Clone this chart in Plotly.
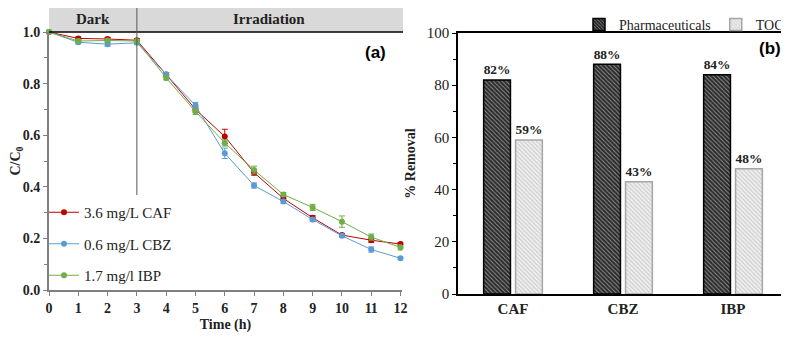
import plotly.graph_objects as go

# ---- data ----
hours = [0, 1, 2, 3, 4, 5, 6, 7, 8, 9, 10, 11, 12]
caf = [1.0, 0.975, 0.973, 0.968, 0.835, 0.70, 0.595, 0.455, 0.355, 0.28, 0.213, 0.193, 0.178]
caf_err = [0.0, 0.006, 0.006, 0.006, 0.008, 0.01, 0.028, 0.01, 0.008, 0.008, 0.006, 0.008, 0.006]
cbz = [1.0, 0.96, 0.953, 0.958, 0.835, 0.715, 0.53, 0.405, 0.343, 0.273, 0.21, 0.157, 0.123]
cbz_err = [0.0, 0.006, 0.008, 0.006, 0.008, 0.012, 0.02, 0.01, 0.006, 0.008, 0.006, 0.01, 0.006]
ibp = [1.0, 0.965, 0.967, 0.965, 0.822, 0.692, 0.57, 0.465, 0.37, 0.32, 0.265, 0.205, 0.165]
ibp_err = [0.0, 0.006, 0.006, 0.006, 0.008, 0.012, 0.012, 0.015, 0.008, 0.012, 0.022, 0.012, 0.01]
series_names = ["3.6 mg/L CAF", "0.6 mg/L CBZ", "1.7 mg/l IBP"]
series_colors = ["#C00000", "#5B9BD5", "#70AD47"]

compounds = ["CAF", "CBZ", "IBP"]
pharma_removal = [82, 88, 84]
toc_removal = [59, 43, 48]

# page body has an 8px default margin; figure is sized to fit the window
OFF = 8
W, H = 789 - OFF, 337 - OFF
def px_x(p): return (p - OFF) / W
def px_y(p): return 1 - (p - OFF) / H

serif = "Liberation Serif"
sans = "Liberation Sans"

fig = go.Figure()

for name, ys, errs, col in zip(series_names, [caf, cbz, ibp], [caf_err, cbz_err, ibp_err], series_colors):
    fig.add_trace(go.Scatter(
        x=hours, y=ys, name=name, mode="lines+markers",
        line=dict(color=col, width=1),
        marker=dict(color=col, size=6),
        error_y=dict(type="data", array=errs, color=col, thickness=1, width=3),
        xaxis="x", yaxis="y", legend="legend", legendgroup=name, cliponaxis=False,
    ))

fig.add_trace(go.Bar(
    x=compounds, y=pharma_removal, name="Pharmaceuticals",
    marker=dict(color="#404040", line=dict(color="#000000", width=1.5),
                pattern=dict(shape="\\", fgcolor="#FFFFFF", bgcolor="#2A2A2A", size=3, solidity=0.3)),
    text=[f"{v}%" for v in pharma_removal], textposition="outside",
    textfont=dict(family=serif, size=15, color="#222", weight="bold"),
    xaxis="x2", yaxis="y2", legend="legend2", cliponaxis=False,
))
fig.add_trace(go.Bar(
    x=compounds, y=toc_removal, name="TOC",
    marker=dict(color="#D9D9D9", line=dict(color="#A6A6A6", width=1.5),
                pattern=dict(shape="\\", fgcolor="#B0B0B0", bgcolor="#EFEFEF", size=3, solidity=0.4)),
    text=[f"{v}%" for v in toc_removal], textposition="outside",
    textfont=dict(family=serif, size=15, color="#222", weight="bold"),
    xaxis="x2", yaxis="y2", legend="legend2", cliponaxis=False,
))

fig.update_layout(
    width=W, height=H,
    margin=dict(l=0, r=0, t=0, b=0, autoexpand=False),
    paper_bgcolor="white", plot_bgcolor="white",
    barmode="group", bargap=0.42, bargroupgap=0.16,
    font=dict(family=serif, color="#222"),
    xaxis=dict(
        domain=[px_x(49), px_x(402)], range=[0, 12.05], automargin=False,
        tickmode="array", tickvals=hours, ticktext=[str(h) for h in hours],
        tickfont=dict(family=serif, size=14, weight="bold", color="#222"),
        ticks="outside", ticklen=4, tickcolor="#7F7F7F",
        showline=True, linecolor="#7F7F7F", linewidth=2, showgrid=False, zeroline=False,
        title=dict(text="Time (h)", font=dict(family=serif, size=14, weight="bold", color="#222"), standoff=4),
    ),
    yaxis=dict(
        domain=[px_y(290), px_y(32)], range=[0, 1.0], automargin=False,
        tickvals=[0, 0.2, 0.4, 0.6, 0.8, 1.0], ticktext=["0.0", "0.2", "0.4", "0.6", "0.8", "1.0"],
        tickfont=dict(family=serif, size=14, weight="bold", color="#222"),
        ticks="outside", ticklen=4, tickcolor="#7F7F7F",
        minor=dict(dtick=0.1, ticks="outside", ticklen=3, tickcolor="#7F7F7F"),
        showline=True, linecolor="#7F7F7F", linewidth=2, showgrid=False, zeroline=False,
        title=dict(text="C/C<sub>0</sub>", font=dict(family=serif, size=14, weight="bold", color="#222"), standoff=6),
    ),
    xaxis2=dict(
        domain=[px_x(458), px_x(788)], anchor="y2", automargin=False,
        tickfont=dict(family=serif, size=15, weight="bold", color="#222"),
        ticks="", showline=True, mirror=True, linecolor="#000", linewidth=1.5, showgrid=False,
    ),
    yaxis2=dict(
        domain=[px_y(294), px_y(33)], anchor="x2", range=[0, 100], automargin=False,
        tickvals=[0, 20, 40, 60, 80, 100],
        tickfont=dict(family=serif, size=15, color="#222"),
        ticks="outside", ticklen=4, tickcolor="#000",
        minor=dict(dtick=10, ticks="outside", ticklen=3, tickcolor="#000"),
        showline=True, mirror=True, linecolor="#000", linewidth=1.5, showgrid=False, zeroline=False,
        title=dict(text="% Removal", font=dict(family=serif, size=14, weight="bold", color="#222"), standoff=8),
    ),
    legend=dict(
        x=px_x(44), y=px_y(196), xanchor="left", yanchor="top",
        bgcolor="rgba(0,0,0,0)", font=dict(family=serif, size=15, color="#222"),
        tracegroupgap=9, itemwidth=30,
    ),
    legend2=dict(
        orientation="h", x=1.0, y=px_y(25), xanchor="right", yanchor="middle",
        bgcolor="rgba(0,0,0,0)", font=dict(family=serif, size=14, color="#222"),
        itemwidth=30,
    ),
    showlegend=True,
)

# Header band for panel (a)
fig.add_shape(type="rect", xref="paper", yref="paper",
              x0=px_x(49), x1=px_x(403), y0=px_y(32), y1=px_y(7),
              fillcolor="#D9D9D9", line=dict(width=0), layer="below")
fig.add_shape(type="line", xref="paper", yref="paper",
              x0=px_x(49), x1=px_x(403), y0=px_y(32), y1=px_y(32),
              line=dict(color="#000", width=1.5))
fig.add_shape(type="line", xref="x", yref="paper",
              x0=3, x1=3, y0=px_y(195), y1=1.0,
              line=dict(color="#555", width=1))
fig.add_annotation(xref="x", yref="paper", x=1.5, y=px_y(19.5), text="Dark", showarrow=False,
                   xanchor="center", yanchor="middle",
                   font=dict(family=serif, size=15, weight="bold", color="#222"))
fig.add_annotation(xref="x", yref="paper", x=7.5, y=px_y(19.5), text="Irradiation", showarrow=False,
                   xanchor="center", yanchor="middle",
                   font=dict(family=serif, size=15, weight="bold", color="#222"))
fig.add_annotation(xref="paper", yref="paper", x=px_x(375), y=px_y(52), text="(a)", showarrow=False,
                   xanchor="center", yanchor="middle",
                   font=dict(family=sans, size=17, weight="bold", color="#000"))
fig.add_annotation(xref="paper", yref="paper", x=px_x(770), y=px_y(48), text="(b)", showarrow=False,
                   xanchor="center", yanchor="middle",
                   font=dict(family=sans, size=17, weight="bold", color="#000"))

fig.write_html("out.html")
